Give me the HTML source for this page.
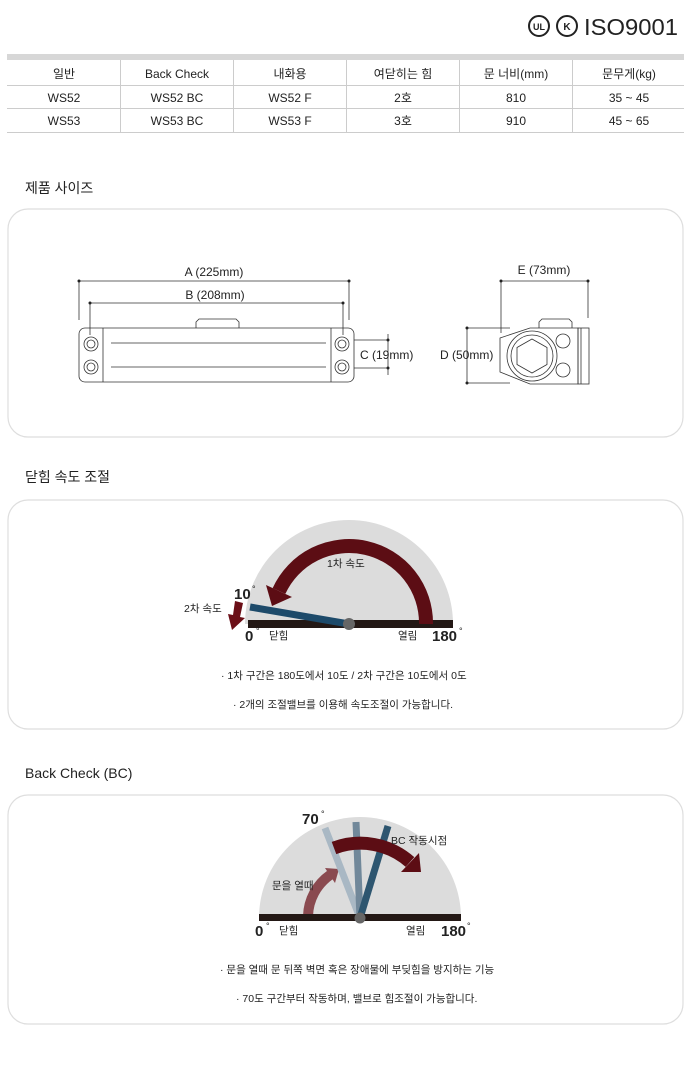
<!DOCTYPE html>
<html><head><meta charset="utf-8"><style>
html,body{margin:0;padding:0;background:#fff;}
svg{display:block;}
text{font-family:"Liberation Sans","Noto Sans CJK KR",sans-serif;fill:#222;}
</style></head><body>
<svg width="691" height="1072" viewBox="0 0 691 1072" xmlns="http://www.w3.org/2000/svg">
<!-- logos -->
<circle cx="539" cy="26" r="10" fill="none" stroke="#222" stroke-width="2"/>
<text x="539" y="30" font-size="9" font-weight="bold" text-anchor="middle">UL</text>
<circle cx="567" cy="26" r="10" fill="none" stroke="#222" stroke-width="2"/>
<text x="567" y="30" font-size="10" font-weight="bold" text-anchor="middle">K</text>
<text x="584" y="35" font-size="23" fill="#333" textLength="94" lengthAdjust="spacingAndGlyphs">ISO9001</text>
<!-- table -->
<rect x="7" y="54" width="677" height="6" fill="#d7d7d7"/>
<line x1="7" y1="85.5" x2="684" y2="85.5" stroke="#ccc"/>
<line x1="7" y1="108.5" x2="684" y2="108.5" stroke="#ccc"/>
<line x1="7" y1="132.5" x2="684" y2="132.5" stroke="#ccc"/>
<g stroke="#ccc">
<line x1="120.5" y1="60" x2="120.5" y2="132"/><line x1="233.5" y1="60" x2="233.5" y2="132"/>
<line x1="346.5" y1="60" x2="346.5" y2="132"/><line x1="459.5" y1="60" x2="459.5" y2="132"/>
<line x1="572.5" y1="60" x2="572.5" y2="132"/></g>
<g font-size="12" text-anchor="middle">
<text x="64" y="78">일반</text><text x="177" y="78">Back Check</text><text x="290" y="78">내화용</text><text x="403" y="78">여닫히는 힘</text><text x="516" y="78">문 너비(mm)</text><text x="629" y="78">문무게(kg)</text>
<text x="64" y="102">WS52</text><text x="177" y="102">WS52  BC</text><text x="290" y="102">WS52 F</text><text x="403" y="102">2호</text><text x="516" y="102">810</text><text x="629" y="102">35 ~ 45</text>
<text x="64" y="125">WS53</text><text x="177" y="125">WS53  BC</text><text x="290" y="125">WS53 F</text><text x="403" y="125">3호</text><text x="516" y="125">910</text><text x="629" y="125">45 ~ 65</text>
</g>
<!-- section titles -->
<g font-size="14"><text x="25" y="193">제품 사이즈</text><text x="25" y="482">닫힘 속도 조절</text><text x="25" y="778">Back Check (BC)</text></g>
<g fill="none" stroke="#dedede" stroke-width="1.2">
<rect x="8" y="209" width="675" height="228" rx="20"/>
<rect x="8" y="500" width="675" height="229" rx="20"/>
<rect x="8" y="795" width="675" height="229" rx="20"/></g>
<!-- drawing 1 -->
<g stroke="#333" stroke-width="0.8" fill="none">
<line x1="79" y1="281" x2="349" y2="281"/><line x1="79" y1="281" x2="79" y2="320"/><line x1="349" y1="281" x2="349" y2="320"/>
<line x1="90" y1="303" x2="343" y2="303"/><line x1="90" y1="303" x2="90" y2="335"/><line x1="343" y1="303" x2="343" y2="335"/>
<rect x="79" y="328" width="275" height="54" rx="6"/>
<line x1="103" y1="328" x2="103" y2="382"/><line x1="331" y1="328" x2="331" y2="382"/>
<line x1="111" y1="343" x2="326" y2="343"/><line x1="111" y1="367" x2="326" y2="367"/>
<path d="M196 328 V322 L199 319 H236 L239 322 V328"/>
<circle cx="91" cy="344" r="7"/><circle cx="91" cy="344" r="4"/><circle cx="91" cy="367" r="7"/><circle cx="91" cy="367" r="4"/>
<circle cx="342" cy="344" r="7"/><circle cx="342" cy="344" r="4"/><circle cx="342" cy="367" r="7"/><circle cx="342" cy="367" r="4"/>
<line x1="354" y1="340" x2="388" y2="340"/><line x1="354" y1="368" x2="388" y2="368"/><line x1="388" y1="334" x2="388" y2="375"/>
<line x1="501" y1="281" x2="588" y2="281"/><line x1="501" y1="281" x2="501" y2="333"/><line x1="588" y1="281" x2="588" y2="318"/>
<line x1="467" y1="328" x2="510" y2="328"/><line x1="467" y1="383" x2="510" y2="383"/><line x1="467" y1="328" x2="467" y2="383"/>
<path d="M500 338 L530 328 H578 V384 H530 L500 372 Z"/>
<path d="M539 328 V322 L542 319 H569 L572 322 V328"/>
<rect x="578" y="328" width="11" height="56"/><line x1="581" y1="328" x2="581" y2="384"/>
<circle cx="532" cy="356" r="25"/><circle cx="532" cy="356" r="21"/>
<polygon points="532,339 547,347.5 547,364.5 532,373 517,364.5 517,347.5"/>
<circle cx="563" cy="341" r="7"/><circle cx="563" cy="370" r="7"/>
</g>
<g fill="#222"><circle cx="79" cy="281" r="1.5"/><circle cx="349" cy="281" r="1.5"/><circle cx="90" cy="303" r="1.5"/><circle cx="343" cy="303" r="1.5"/><circle cx="388" cy="340" r="1.5"/><circle cx="388" cy="368" r="1.5"/><circle cx="501" cy="281" r="1.5"/><circle cx="588" cy="281" r="1.5"/><circle cx="467" cy="328" r="1.5"/><circle cx="467" cy="383" r="1.5"/></g>
<g font-size="12"><text x="214" y="276" text-anchor="middle">A (225mm)</text><text x="215" y="299" text-anchor="middle">B (208mm)</text>
<text x="360" y="359">C (19mm)</text><text x="440" y="359">D (50mm)</text><text x="544" y="274" text-anchor="middle">E (73mm)</text></g>
<!-- diagram 1 -->
<path d="M245 624 A104 104 0 0 1 453 624 Z" fill="#dcdcdc"/>
<rect x="248" y="620" width="205" height="8" fill="#231815"/>
<path d="M426 624 A77 77 0 0 0 279 591" fill="none" stroke="#5c0d14" stroke-width="14"/>
<polygon points="292,597 266,585 272,606" fill="#5c0d14"/>
<line x1="349" y1="624" x2="250" y2="607" stroke="#1d4a6a" stroke-width="7"/>
<circle cx="349" cy="624" r="6" fill="#666"/>
<polygon points="235,601 243,603 240,617 245,618 232,630 228,614 233,615" fill="#6b0f17"/>
<text x="234" y="599" font-size="15" font-weight="bold">10</text><text x="252" y="592" font-size="9">°</text>
<text x="245" y="641" font-size="15" font-weight="bold">0</text><text x="256" y="634" font-size="9">°</text>
<text x="432" y="641" font-size="15" font-weight="bold">180</text><text x="459" y="634" font-size="9">°</text>
<g font-size="10.5"><text x="269" y="639">닫힘</text><text x="398" y="639">열림</text><text x="327" y="567">1차 속도</text><text x="184" y="612">2차 속도</text>
<text x="221" y="679">· 1차 구간은 180도에서 10도 / 2차 구간은 10도에서 0도</text>
<text x="233" y="708">· 2개의 조절밸브를 이용해 속도조절이 가능합니다.</text></g>
<!-- diagram 2 -->
<path d="M259 918 A101 101 0 0 1 461 918 Z" fill="#dcdcdc"/>
<path d="M308 916 A52 52 0 0 1 330 875" fill="none" stroke="#8a4a50" stroke-width="10"/>
<polygon points="335,883 325,868 339,869" fill="#8a4a50"/>
<line x1="360" y1="918" x2="325" y2="828" stroke="#a9b8c4" stroke-width="7"/>
<line x1="360" y1="918" x2="356" y2="822" stroke="#71889a" stroke-width="7"/>
<line x1="360" y1="918" x2="388" y2="826" stroke="#2e5670" stroke-width="7"/>
<path d="M334 848 A75 75 0 0 1 410 862" fill="none" stroke="#5c0d14" stroke-width="13"/>
<polygon points="419,853 401,872 421,872" fill="#5c0d14"/>
<rect x="259" y="914" width="202" height="7" fill="#231815"/>
<circle cx="360" cy="918" r="5.5" fill="#666"/>
<text x="302" y="824" font-size="15" font-weight="bold">70</text><text x="321" y="817" font-size="9">°</text>
<text x="255" y="936" font-size="15" font-weight="bold">0</text><text x="266" y="929" font-size="9">°</text>
<text x="441" y="936" font-size="15" font-weight="bold">180</text><text x="467" y="929" font-size="9">°</text>
<g font-size="10.5"><text x="279" y="934">닫힘</text><text x="406" y="934">열림</text><text x="272" y="889">문을 열때</text><text x="391" y="844">BC 작동시점</text>
<text x="220" y="973">· 문을 열때 문 뒤쪽 벽면 혹은 장애물에 부딪힘을 방지하는 기능</text>
<text x="236" y="1002">· 70도 구간부터 작동하며, 밸브로 힘조절이 가능합니다.</text></g>
</svg>
</body></html>
